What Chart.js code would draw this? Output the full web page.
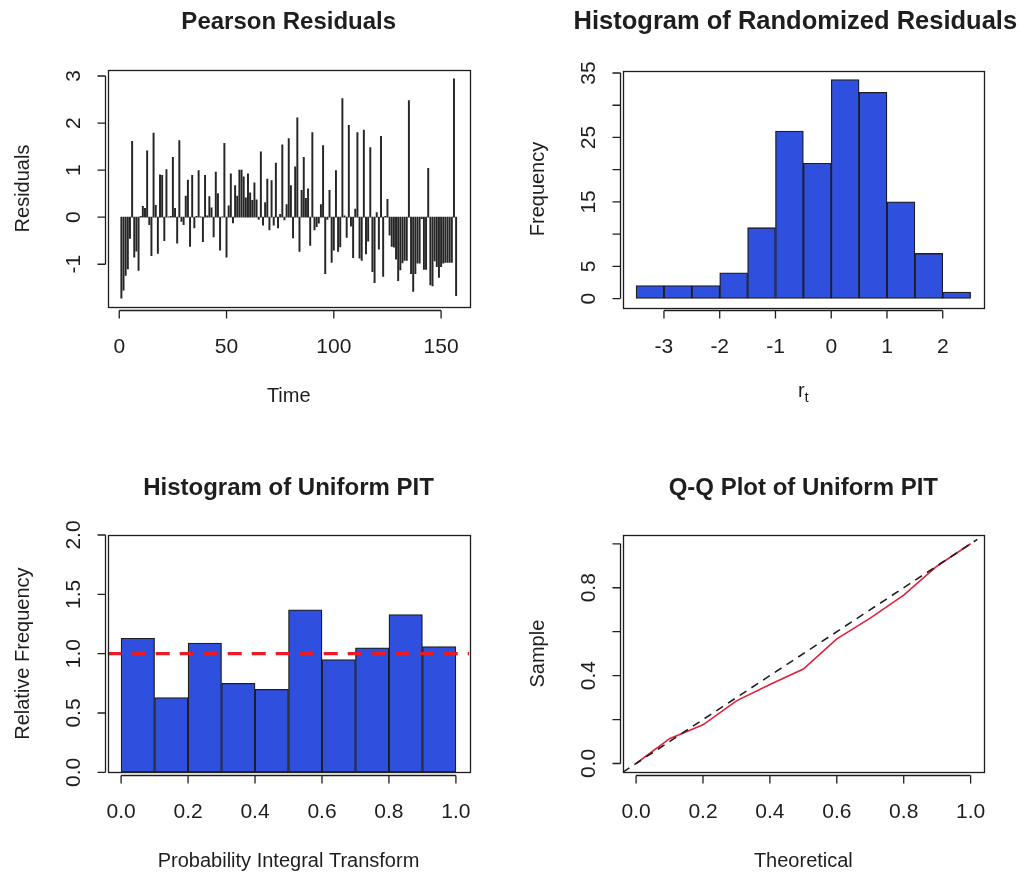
<!DOCTYPE html>
<html><head><meta charset="utf-8">
<script src="https://cdn.jsdelivr.net/npm/chart.js@4.4.1/dist/chart.umd.min.js"></script>
<style>
html,body{margin:0;padding:0;background:#fff;overflow:hidden}
#fig{position:relative;width:1021px;height:873px;background:#fff}
#fig canvas{position:absolute}
</style></head><body>
<div id="fig">
<canvas id="c1" width="510" height="436" style="left:0;top:0;width:510px;height:436px"></canvas>
<canvas id="c2" width="511" height="436" style="left:510px;top:0;width:511px;height:436px"></canvas>
<canvas id="c3" width="510" height="437" style="left:0;top:436px;width:510px;height:437px"></canvas>
<canvas id="c4" width="511" height="437" style="left:510px;top:436px;width:511px;height:437px"></canvas>
</div>
<script>
// ---------- data ----------
const pearsonResiduals = [
 -1.72,-1.55,-1.24,-1.10,-0.45, 1.61,-0.85,-0.72,-1.13, 0.02,
  0.23, 0.19, 1.41,-0.16,-0.82, 1.79, 0.25,-0.77, 0.90, 0.89,
 -0.50, 1.01, 0.01, 0.02, 1.27, 0.19,-0.55, 1.63,-0.09,-0.16,
  0.45, 0.79,-0.62, 0.89,-0.23, 0.02, 0.99, 0.01,-0.52, 0.89,
  0.03, 0.44, 0.20,-0.42, 0.96, 0.50,-0.70, 0.01, 1.57,-0.85,
  0.24, 0.92,-0.12, 0.67, 0.45, 1.00, 1.00, 0.86, 0.41, 0.92,
  0.52, 0.36, 0.73, 0.37,-0.05, 1.39,-0.17, 0.31, 0.81,-0.27,
  0.78,-0.17, 1.15,-0.23, 0.06, 1.54,-0.06, 0.27, 1.67, 0.67,
 -0.44, 1.07, 2.11,-0.73, 0.57, 1.27, 0.40, 0.60,-0.60, 1.80,
 -0.27,-0.20,-0.13, 0.27, 1.52,-1.20,-0.05, 0.57,-0.96,-0.70,
  0.99,-0.73,-0.63, 2.52, 0.03,-0.43, 1.95,-0.19,-0.86, 0.17,
  1.80,-0.87,-0.92, 1.85,-0.78,-0.51, 1.48,-1.16,-1.39, 0.10,
 -0.68, 1.72,-1.26, 0.02, 0.38,-0.38,-0.62,-0.64,-0.89,-1.35,
 -1.12,-0.97,-0.92,-0.92, 2.48,-1.20,-1.58,-1.20,-0.98,-0.98,
 -0.03,-1.11,-1.11, 1.04,-1.44,-1.46,-0.93,-1.05,-1.28,-1.05,
 -0.98,-0.96,-0.96,-0.96,-0.96, 2.94,-1.67
];
const pearsonXTicks = [0, 50, 100, 150];
const pearsonXTickLabels = ['0', '50', '100', '150'];
const pearsonYTicks = [-1, 0, 1, 2, 3];
const pearsonYTickLabels = ['-1', '0', '1', '2', '3'];

const rtBinStarts = [-3.5, -3, -2.5, -2, -1.5, -1, -0.5, 0, 0.5, 1, 1.5, 2];
const rtBinWidth = 0.5;
const rtCounts = [2, 2, 2, 4, 11, 26, 21, 34, 32, 15, 7, 1];
const rtXTicks = [-3, -2, -1, 0, 1, 2];
const rtXTickLabels = ['-3', '-2', '-1', '0', '1', '2'];
const rtYTicks = [0, 5, 10, 15, 20, 25, 30, 35];
const rtYTickLabels = ['0', '5', '', '15', '', '25', '', '35'];

const pitBinStarts = [0, 0.1, 0.2, 0.3, 0.4, 0.5, 0.6, 0.7, 0.8, 0.9];
const pitBinWidth = 0.1;
const pitDensity = [1.13, 0.63, 1.09, 0.75, 0.70, 1.37, 0.95, 1.05, 1.33, 1.06];
const pitReference = [1, 1];
const pitReferenceX = [-0.04, 1.04];
const pitXTicks = [0, 0.2, 0.4, 0.6, 0.8, 1];
const pitXTickLabels = ['0.0', '0.2', '0.4', '0.6', '0.8', '1.0'];
const pitYTicks = [0, 0.5, 1, 1.5, 2];
const pitYTickLabels = ['0.0', '0.5', '1.0', '1.5', '2.0'];

const qqTheoretical = [0, 0.1, 0.2, 0.3, 0.4, 0.5, 0.6, 0.7, 0.8, 0.9, 1.0];
const qqSample = [0, 0.113, 0.176, 0.285, 0.360, 0.430, 0.567, 0.662, 0.766, 0.899, 1.0];
const qqIdentity = [-0.04, 1.02];
const qqXTicks = [0, 0.2, 0.4, 0.6, 0.8, 1];
const qqXTickLabels = ['0.0', '0.2', '0.4', '0.6', '0.8', '1.0'];
const qqYTicks = [0, 0.2, 0.4, 0.6, 0.8, 1];
const qqYTickLabels = ['0.0', '', '0.4', '', '0.8', ''];

// ---------- styling ----------
const FONT = "'Liberation Sans', Arial, Helvetica, sans-serif";
const INK = '#1e1e1e';
const BLUE = 'rgb(47,80,222)';

const rAxes = {
  id: 'rAxes',
  afterDraw(chart, _args, o) {
    const ctx = chart.ctx, A = chart.chartArea, xs = chart.scales.x, ys = chart.scales.y;
    ctx.save();
    ctx.strokeStyle = INK; ctx.fillStyle = INK; ctx.lineWidth = 1.3;
    ctx.strokeRect(Math.round(A.left) + 0.5, Math.round(A.top) + 0.5,
                   Math.round(A.right - A.left), Math.round(A.bottom - A.top));
    // x axis
    const xp = xs.ticks.map(t => xs.getPixelForValue(t.value));
    const ay = Math.round(A.bottom + o.gap) + 0.5;
    ctx.beginPath();
    ctx.moveTo(xp[0], ay); ctx.lineTo(xp[xp.length - 1], ay);
    xp.forEach(p => { ctx.moveTo(p, ay); ctx.lineTo(p, ay + o.tick); });
    ctx.stroke();
    ctx.font = o.tickSize + 'px ' + FONT;
    ctx.textAlign = 'center'; ctx.textBaseline = 'alphabetic';
    xs.ticks.forEach((t, i) => { if (t.label) ctx.fillText(t.label, xp[i], A.bottom + o.xTickBase); });
    // y axis
    const yp = ys.ticks.map(t => ys.getPixelForValue(t.value));
    const ax = Math.round(A.left - o.gap) + 0.5;
    ctx.beginPath();
    ctx.moveTo(ax, yp[0]); ctx.lineTo(ax, yp[yp.length - 1]);
    yp.forEach(p => { ctx.moveTo(ax, p); ctx.lineTo(ax - o.tick, p); });
    ctx.stroke();
    ys.ticks.forEach((t, i) => {
      if (!t.label) return;
      ctx.save(); ctx.translate(A.left - o.yTickBase, yp[i]); ctx.rotate(-Math.PI / 2);
      ctx.fillText(t.label, 0, 0); ctx.restore();
    });
    // title
    ctx.font = 'bold ' + o.titleSize + 'px ' + FONT;
    ctx.fillText(o.title, (A.left + A.right) / 2 + (o.titleShift || 0), o.titleBase);
    // x label
    ctx.font = o.labSize + 'px ' + FONT;
    const cx = (A.left + A.right) / 2;
    if (o.xSub) {
      const w1 = ctx.measureText(o.xLabel).width;
      ctx.font = (o.labSize * 0.75) + 'px ' + FONT;
      const w2 = ctx.measureText(o.xSub).width;
      ctx.textAlign = 'left';
      ctx.fillText(o.xSub, cx - (w1 + w2) / 2 + w1, A.bottom + o.xLabBase + 5);
      ctx.font = o.labSize + 'px ' + FONT;
      ctx.fillText(o.xLabel, cx - (w1 + w2) / 2, A.bottom + o.xLabBase);
      ctx.textAlign = 'center';
    } else {
      ctx.fillText(o.xLabel, cx, A.bottom + o.xLabBase);
    }
    // y label
    ctx.save(); ctx.translate(A.left - o.yLabBase, (A.top + A.bottom) / 2); ctx.rotate(-Math.PI / 2);
    ctx.fillText(o.yLabel, 0, 0); ctx.restore();
    ctx.restore();
  }
};
Chart.register(rAxes);

function axisTicks(vals) {
  return s => { s.ticks = vals.map(v => ({ value: v })); };
}
function baseOptions(p) {
  return {
    responsive: false, animation: false, events: [],
    layout: { padding: p.pad },
    plugins: {
      legend: { display: false }, tooltip: { enabled: false }, title: { display: false },
      rAxes: Object.assign({ gap: 3, tick: 8, tickSize: 21, labSize: 20, titleSize: 24,
        xTickBase: 45.5, yTickBase: 28, xLabBase: 94.5, yLabBase: 79 }, p.r)
    },
    scales: {
      x: { type: 'linear', display: false, offset: false, min: p.xmin, max: p.xmax,
           afterBuildTicks: axisTicks(p.xt),
           ticks: { callback: (v, i) => p.xl[i] } },
      y: { type: 'linear', display: false, min: p.ymin, max: p.ymax,
           afterBuildTicks: axisTicks(p.yt),
           ticks: { callback: (v, i) => p.yl[i] } }
    }
  };
}

// Panel 1: Pearson residuals
new Chart(document.getElementById('c1'), {
  type: 'bar',
  data: { datasets: [{
    data: pearsonResiduals.map((v, i) => ({ x: i + 1, y: v })),
    backgroundColor: '#262626', borderWidth: 0, barThickness: 1.3
  }] },
  options: baseOptions({
    pad: { left: 108, top: 70, right: 40.5, bottom: 129 },
    xmin: -5.24, xmax: 163.24, ymin: -1.909, ymax: 3.128,
    xt: pearsonXTicks, xl: pearsonXTickLabels, yt: pearsonYTicks, yl: pearsonYTickLabels,
    r: { title: 'Pearson Residuals', titleBase: 28.5, xLabel: 'Time', yLabel: 'Residuals' }
  })
});

// Panel 2: Histogram of randomized residuals
new Chart(document.getElementById('c2'), {
  type: 'bar',
  data: { datasets: [{
    data: rtCounts.map((c, i) => ({ x: rtBinStarts[i] + rtBinWidth / 2, y: c })),
    backgroundColor: BLUE, borderColor: INK, borderWidth: 1.3, borderSkipped: false,
    barPercentage: 1, categoryPercentage: 1
  }] },
  options: baseOptions({
    pad: { left: 112.7, top: 70.7, right: 37, bottom: 128.7 },
    xmin: -3.74, xmax: 2.74, ymin: -1.36, ymax: 35.36,
    xt: rtXTicks, xl: rtXTickLabels, yt: rtYTicks, yl: rtYTickLabels,
    r: { title: 'Histogram of Randomized Residuals', titleSize: 25.5, titleShift: -8, titleBase: 28.5,
         xLabel: 'r', xSub: 't', xLabBase: 89.5, yLabel: 'Frequency' }
  })
});

// Panel 3: Histogram of uniform PIT
new Chart(document.getElementById('c3'), {
  type: 'bar',
  data: { datasets: [
    { type: 'line', order: 0,
      data: pitReference.map((v, i) => ({ x: pitReferenceX[i], y: v })),
      borderColor: 'rgb(232,28,36)', borderWidth: 3.2, borderDash: [14, 10],
      pointRadius: 0, fill: false },
    { order: 1,
      data: pitDensity.map((d, i) => ({ x: pitBinStarts[i] + pitBinWidth / 2, y: d })),
      backgroundColor: BLUE, borderColor: INK, borderWidth: 1.3, borderSkipped: false,
      barPercentage: 1, categoryPercentage: 1 }
  ] },
  options: baseOptions({
    pad: { left: 107.7, top: 99, right: 40.7, bottom: 100.7 },
    xmin: -0.04, xmax: 1.04, ymin: 0, ymax: 2,
    xt: pitXTicks, xl: pitXTickLabels, yt: pitYTicks, yl: pitYTickLabels,
    r: { title: 'Histogram of Uniform PIT', titleBase: 58.5,
         xLabel: 'Probability Integral Transform', yLabel: 'Relative Frequency' }
  })
});

// Panel 4: Q-Q plot of uniform PIT
new Chart(document.getElementById('c4'), {
  type: 'line',
  data: { datasets: [
    { order: 0, data: qqIdentity.map(v => ({ x: v, y: v })),
      borderColor: '#202020', borderWidth: 1.6, borderDash: [8, 6], pointRadius: 0, fill: false },
    { order: 1, data: qqSample.map((v, i) => ({ x: qqTheoretical[i], y: v })),
      borderColor: 'rgb(228,32,58)', borderWidth: 1.6, pointRadius: 0, fill: false, tension: 0 }
  ] },
  options: baseOptions({
    pad: { left: 112.7, top: 99, right: 37, bottom: 100.7 },
    xmin: -0.04, xmax: 1.04, ymin: -0.04, ymax: 1.04,
    xt: qqXTicks, xl: qqXTickLabels, yt: qqYTicks, yl: qqYTickLabels,
    r: { title: 'Q-Q Plot of Uniform PIT', titleBase: 58.5, xLabel: 'Theoretical', yLabel: 'Sample' }
  })
});
</script>
</body></html>
